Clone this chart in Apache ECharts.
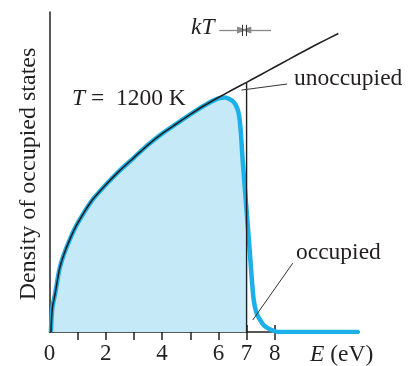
<!DOCTYPE html>
<html>
<head>
<meta charset="utf-8">
<script src="https://cdn.jsdelivr.net/npm/echarts@6/dist/echarts.min.js"></script>
<style>
  html, body { margin: 0; padding: 0; background: #fff; }
  #main { width: 418px; height: 366px; }
</style>
</head>
<body>
<div id="main"></div>
<script>
// density of states (black curve)
const energy = [0.05, 0.1, 0.2, 0.35, 0.5, 0.75, 1, 1.5, 2, 2.5, 3, 3.5, 4, 4.5, 5, 5.5, 6, 6.5, 7, 7.5, 8, 8.5, 9, 9.5, 10.26];
const dos    = [0, 0.75, 1.2, 1.95, 2.4, 2.95, 3.4, 4.1, 4.6, 5.05, 5.45, 5.85, 6.2, 6.5, 6.8, 7.08, 7.33, 7.57, 7.8, 8.04, 8.28, 8.52, 8.76, 8.99, 9.33];

// density of occupied states at T = 1200 K (blue curve)
const occEnergy = [0.05, 0.1, 0.2, 0.35, 0.5, 0.75, 1, 1.5, 2, 2.5, 3, 3.5, 4, 4.5, 5, 5.5, 6, 6.23, 6.53, 6.67, 6.74, 6.79, 6.83, 6.86, 7, 7.1, 7.24, 7.36, 7.6, 7.89, 8.1, 11];
const occupied  = [0, 0.75, 1.2, 1.95, 2.4, 2.95, 3.4, 4.1, 4.6, 5.05, 5.45, 5.85, 6.2, 6.5, 6.8, 7.08, 7.3, 7.33, 7.2, 6.99, 6.73, 6.31, 5.79, 5.375, 3.8, 2.67, 1.1, 0.58, 0.22, 0.06, 0, 0];

const fermiEnergy = 7;
const tickValues = [1, 2, 3, 4, 5, 6, 7, 8];
const labelValues = [0, 2, 4, 6, 7, 8];

const ink = '#231f20';
const blue = '#1cb0e8';
const fill = '#c6e9f8';
const serif = "'Liberation Serif', 'Times New Roman', serif";
const textFont = '23.5px ' + serif;

const zip = (xs, ys) => xs.map((x, i) => [x, ys[i]]);
const dosData = zip(energy, dos);
const occData = zip(occEnergy, occupied);
const fillData = occData.filter(p => p[0] <= fermiEnergy);
const dosAtFermi = dos[energy.indexOf(fermiEnergy)];

const seg = (a, b, endSymbol, color) => [
  { coord: a, symbol: 'none', lineStyle: color ? { color: color, width: 1.3 } : undefined },
  { coord: b, symbol: endSymbol || 'none', symbolSize: [7, 10] }
];

var myChart = echarts.init(document.getElementById('main'));
myChart.setOption({
  animation: false,
  grid: { left: 49.5, right: 58.8, top: 12, bottom: 34 },
  xAxis: [{
    type: 'value', min: 0, max: 11,
    axisLine: { lineStyle: { color: ink, width: 1.5 } },
    axisTick: { show: true, inside: false, length: 8, customValues: tickValues, lineStyle: { color: ink, width: 1.5 } },
    axisLabel: { customValues: labelValues, margin: 10, fontFamily: serif, fontSize: 23, color: ink },
    splitLine: { show: false }
  }, {
    type: 'value', min: 0, max: 11, position: 'bottom',
    axisLine: { show: false },
    axisTick: { show: true, inside: true, length: 7, customValues: tickValues, lineStyle: { color: ink, width: 1.5 } },
    axisLabel: { show: false },
    splitLine: { show: false }
  }],
  yAxis: {
    type: 'value', min: 0, max: 10,
    axisLine: { show: true, lineStyle: { color: ink, width: 1.5 } },
    axisTick: { show: false },
    axisLabel: { show: false },
    splitLine: { show: false }
  },
  series: [{
    name: 'fill', type: 'line', data: fillData, z: 1,
    smooth: 0.2, showSymbol: false,
    lineStyle: { width: 0 },
    areaStyle: { color: fill, opacity: 1 }
  }, {
    name: 'occupied', type: 'line', data: occData, z: 2,
    smooth: 0.2, showSymbol: false,
    lineStyle: { color: blue, width: 4.5, join: 'round' }
  }, {
    name: 'states', type: 'line', data: dosData, z: 3,
    smooth: 0.2, showSymbol: false,
    lineStyle: { color: ink, width: 1.6 }
  }, {
    name: 'fermi', type: 'line', data: [[fermiEnergy, 0], [fermiEnergy, dosAtFermi]], z: 4,
    showSymbol: false,
    lineStyle: { color: ink, width: 1.4 },
    markLine: {
      silent: true,
      symbolSize: [7, 10],
      label: { show: false },
      lineStyle: { color: '#333', width: 1, type: 'solid' },
      data: [
        // leaders
        seg([8.44, 7.75], [6.82, 7.56]),
        seg([8.64, 2.15], [7.22, 0.375]),
        // kT arrows and bars
        seg([6.03, 9.44], [6.84, 9.44], 'triangle', '#888'),
        seg([7.87, 9.44], [6.99, 9.44], 'triangle', '#888'),
        seg([6.85, 9.25], [6.85, 9.6]),
        seg([6.98, 9.25], [6.98, 9.6])
      ]
    }
  }],
  graphic: [{
    type: 'text', x: 29, y: 174, rotation: Math.PI / 2,
    style: { text: 'Density of occupied states', font: '24px ' + serif, fill: ink, align: 'center', verticalAlign: 'middle' }
  }, {
    type: 'text', x: 72, y: 99,
    style: { text: '{i|T} =  1200 K', font: textFont, fill: ink, align: 'left', verticalAlign: 'middle',
      rich: { i: { fontStyle: 'italic', fontFamily: serif, fontSize: 23.5, fill: ink } } }
  }, {
    type: 'text', x: 191, y: 28,
    style: { text: 'kT', font: 'italic ' + textFont, fill: ink, align: 'left', verticalAlign: 'middle' }
  }, {
    type: 'text', x: 294, y: 79,
    style: { text: 'unoccupied', font: textFont, fill: ink, align: 'left', verticalAlign: 'middle' }
  }, {
    type: 'text', x: 296, y: 253,
    style: { text: 'occupied', font: textFont, fill: ink, align: 'left', verticalAlign: 'middle' }
  }, {
    type: 'text', x: 310, y: 355,
    style: { text: '{i|E} (eV)', font: textFont, fill: ink, align: 'left', verticalAlign: 'middle',
      rich: { i: { fontStyle: 'italic', fontFamily: serif, fontSize: 23.5, fill: ink } } }
  }]
});
</script>
</body>
</html>
